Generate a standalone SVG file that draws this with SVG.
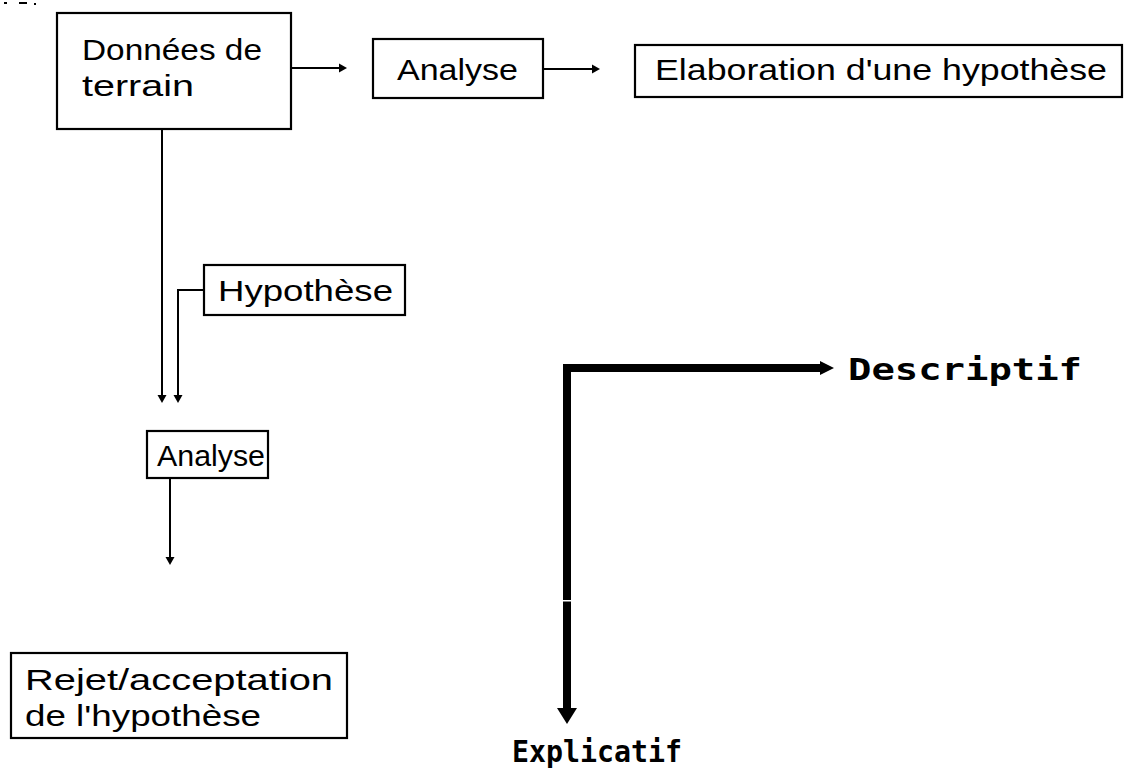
<svg xmlns="http://www.w3.org/2000/svg" width="1131" height="776" viewBox="0 0 1131 776">
<style>
.box{fill:#fff;stroke:#000;stroke-width:2.2}
.t{font-family:"Liberation Sans","DejaVu Sans",sans-serif;font-size:29px;fill:#000}
.b{font-family:"DejaVu Sans Mono","Liberation Mono",monospace;font-size:30px;font-weight:bold;fill:#000}
.ln{fill:none;stroke:#000;stroke-width:2}
.thick{fill:none;stroke:#000;stroke-width:8;stroke-linejoin:miter;stroke-linecap:square}
.hd{fill:#000}
</style>
<rect width="1131" height="776" fill="#fff"/>
<g id="artifacts" fill="#000">
<rect x="4" y="2" width="3" height="2"/><rect x="19" y="2" width="8" height="2"/><rect x="34" y="3" width="2" height="2"/>
</g>
<g id="connectors">
<line class="ln" x1="291" y1="68" x2="340" y2="68"/>
<polygon class="hd" points="347,68 339,63.5 339,72.5"/>
<line class="ln" x1="543" y1="69" x2="593" y2="69"/>
<polygon class="hd" points="600,69 592,64.5 592,73.5"/>
<line class="ln" x1="162" y1="129" x2="162" y2="396"/>
<polygon class="hd" points="162,403 157.5,395 166.5,395"/>
<polyline class="ln" points="204,290 178,290 178,396"/>
<polygon class="hd" points="178,403 173.5,395 182.5,395"/>
<line class="ln" x1="170" y1="478" x2="170" y2="558"/>
<polygon class="hd" points="170,565 165.5,557 174.5,557"/>
<polyline class="thick" points="822,368 567,368 567,710"/>
<polygon class="hd" points="834,368 820,361 820,375"/>
<polygon class="hd" points="567,724 557,708 577,708"/>
<rect x="562" y="600" width="10" height="1.5" fill="#fff"/>
</g>
<g id="n-donnees">
<rect class="box" x="57" y="13" width="234" height="116"/>
<text class="t" x="82" y="60" textLength="180" lengthAdjust="spacingAndGlyphs">Données de</text>
<text class="t" x="82" y="96" textLength="112" lengthAdjust="spacingAndGlyphs">terrain</text>
</g>
<g id="n-analyse1">
<rect class="box" x="373" y="39" width="170" height="59"/>
<text class="t" x="397" y="80" textLength="121" lengthAdjust="spacingAndGlyphs">Analyse</text>
</g>
<g id="n-elaboration">
<rect class="box" x="635" y="45" width="487" height="52"/>
<text class="t" x="655" y="80" textLength="452" lengthAdjust="spacingAndGlyphs">Elaboration d'une hypothèse</text>
</g>
<g id="n-hypothese">
<rect class="box" x="204" y="265" width="201" height="50"/>
<text class="t" x="218" y="301" textLength="175" lengthAdjust="spacingAndGlyphs">Hypothèse</text>
</g>
<g id="n-analyse2">
<rect class="box" x="147" y="431" width="121" height="47"/>
<text class="t" x="157" y="466" textLength="108" lengthAdjust="spacingAndGlyphs">Analyse</text>
</g>
<g id="n-rejet">
<rect class="box" x="11" y="653" width="336" height="85"/>
<text class="t" x="25" y="690" textLength="308" lengthAdjust="spacingAndGlyphs">Rejet/acceptation</text>
<text class="t" x="25" y="726" textLength="236" lengthAdjust="spacingAndGlyphs">de l'hypothèse</text>
</g>
<g id="n-descriptif">
<text class="b" x="848" y="380" textLength="234" lengthAdjust="spacingAndGlyphs">Descriptif</text>
</g>
<g id="n-explicatif">
<text class="b" x="512" y="762" textLength="170" lengthAdjust="spacingAndGlyphs">Explicatif</text>
</g>
</svg>
